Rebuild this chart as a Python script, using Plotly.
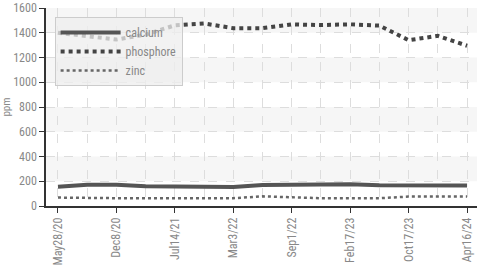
import plotly.graph_objects as go

dates = ["May28/20", "Sep2/20", "Dec8/20", "Mar25/21", "Jul14/21", "Nov10/21",
         "Mar3/22", "Jun7/22", "Sep1/22", "Nov30/22", "Feb17/23", "Jun1/23",
         "Oct17/23", "Jan22/24", "Apr16/24"]
calcium = [155, 172, 172, 160, 158, 152, 153, 170, 172, 168, 176, 168, 166, 166, 165]
phosphore = [1400, 1375, 1345, 1385, 1460, 1475, 1437, 1437, 1468, 1462, 1468, 1458, 1340, 1375, 1295]
zinc = [68, 63, 63, 63, 63, 63, 63, 78, 70, 63, 63, 63, 76, 76, 76]
y_ticks = [0, 200, 400, 600, 800, 1000, 1200, 1400, 1600]

xs = list(range(len(dates)))
tick_idx = xs[::2]
tick_labels = [dates[i] for i in tick_idx]

fig = go.Figure()
fig.add_trace(go.Scatter(x=xs, y=calcium, name="calcium", mode="lines",
                         line=dict(color="#555555", width=4)))
fig.add_trace(go.Scatter(x=xs, y=phosphore, name="phosphore", mode="lines",
                         line=dict(color="#444444", width=4, dash="dot")))
fig.add_trace(go.Scatter(x=xs, y=zinc, name="zinc", mode="lines",
                         line=dict(color="#666666", width=2.5, dash="dot")))

# alternating horizontal bands
for i in range(len(y_ticks) - 1):
    if i % 2 == 1:
        fig.add_shape(type="rect", xref="paper", x0=0, x1=1, yref="y",
                      y0=y_ticks[i], y1=y_ticks[i + 1], fillcolor="#f6f6f6",
                      line_width=0, layer="below")

FONT = "Liberation Sans Narrow, Roboto Condensed, Roboto, sans-serif"

fig.update_layout(
    width=477, height=271,
    margin=dict(l=46, r=0, t=8, b=65, autoexpand=False),
    paper_bgcolor="white", plot_bgcolor="white",
    font=dict(family=FONT, size=12, color="#888888"),
    showlegend=True,
    legend=dict(x=0.02, y=0.955, xanchor="left", yanchor="top",
                bgcolor="rgba(238,238,238,0.75)", bordercolor="#cccccc",
                borderwidth=1, font=dict(size=12, color="#888888"),
                tracegroupgap=0, itemwidth=60),
)
fig.update_xaxes(
    range=[-0.41, 14.34], tickvals=tick_idx, ticktext=tick_labels,
    tickangle=-90, ticks="outside", ticklen=5, tickcolor="#333333",
    showline=True, linecolor="#333333", linewidth=1.5, automargin=False,
    ticklabeloverflow="allow",
    showgrid=True, gridcolor="#dddddd", griddash="dash", zeroline=False,
    minor=dict(dtick=1, tick0=0, showgrid=True, gridcolor="#dddddd", griddash="dash", ticks=""),
    tickfont=dict(size=12, color="#888888"),
)
fig.update_yaxes(
    range=[0, 1600], tickvals=y_ticks, ticks="outside", ticklen=5,
    tickcolor="#333333", showline=True, linecolor="#333333", linewidth=1.5,
    automargin=False, ticklabeloverflow="allow",
    showgrid=True, gridcolor="#dddddd", griddash="dash", zeroline=False,
    title=dict(text="ppm", font=dict(size=11, color="#888888"), standoff=4),
    tickfont=dict(size=12, color="#888888"),
)

fig.write_html("out.html", config={"displayModeBar": False},
               post_script="document.body.style.margin='0';")
